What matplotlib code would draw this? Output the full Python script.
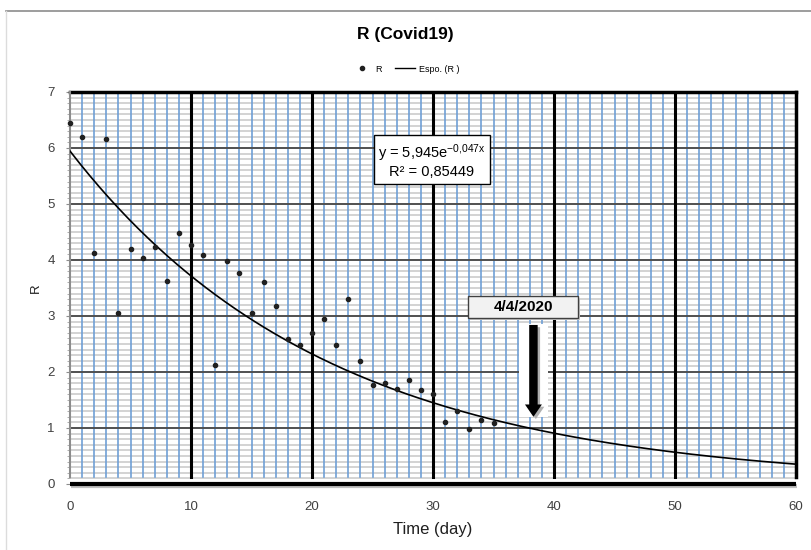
"""R (Covid19) decay chart with exponential trendline"""

import numpy as np
import matplotlib.pyplot as plt
from matplotlib.lines import Line2D
from matplotlib.patches import FancyArrow, Rectangle
import matplotlib.patheffects as pe

plt.rcParams["font.family"] = ["Liberation Sans", "DejaVu Sans"]
plt.rcParams["mathtext.fontset"] = "custom"
plt.rcParams["mathtext.rm"] = "Liberation Sans"
plt.rcParams["mathtext.it"] = "Liberation Sans:italic"

days = list(range(36))
r_values = [
    6.45, 6.19, 4.12, 6.16, 3.06, 4.19, 4.03, 4.24, 3.62, 4.49,
    4.26, 4.09, 2.13, 3.99, 3.76, 3.05, 3.60, 3.18, 2.59, 2.49,
    2.69, 2.94, 2.49, 3.30, 2.20, 1.77, 1.80, 1.70, 1.85, 1.68,
    1.61, 1.10, 1.31, 0.98, 1.15, 1.09,
]

# Excel exponential trendline shown on the chart
fit_a = 5.945
fit_b = -0.047
fit_r2_label = "R² = 0,85449"
fit_eq_label = r"y = 5,945e$^{\mathrm{-0{,}047x}}$"

marker_day = 38.3
marker_label = "4/4/2020"

x_ticks = [0, 10, 20, 30, 40, 50, 60]
y_ticks = [0, 1, 2, 3, 4, 5, 6, 7]

fig = plt.figure(figsize=(8.11, 5.5), dpi=100)
ax = fig.add_axes([70 / 811, 1 - 484 / 550, 726 / 811, 392 / 550])
ax.set_xlim(0, 60)
ax.set_ylim(0, 7)

# chart-area border (cropped)
fig.add_artist(Line2D([6 / 811, 1], [1 - 11 / 550] * 2, color="#8c8c8c", lw=1.2))
fig.add_artist(Line2D([6 / 811] * 2, [0, 1 - 11 / 550], color="#dcdcdc", lw=1))

# graph-paper grid
grid_bottom = 0.13
for yv in np.arange(0.1, 7.0, 0.1):
    if abs(yv - round(yv)) < 1e-6:
        continue
    ax.plot([0, 60], [yv, yv], color="#c8c8c8", lw=1.1, zorder=1)
for d in range(1, 60):
    if d % 10 == 0:
        continue
    ax.plot([d, d], [grid_bottom, 7], color="#6f9fd6", lw=1.2, zorder=1.5)
for yv in range(1, 7):
    ax.plot([0, 60], [yv, yv], color="#505050", lw=1.4, zorder=2)
for d in range(10, 60, 10):
    ax.plot([d, d], [grid_bottom, 7], color="black", lw=2.2, zorder=2.5)

# frame
ax.plot([0, 60], [7, 7], color="black", lw=2.5, zorder=3, clip_on=False)
ax.plot([60, 60], [grid_bottom, 7], color="black", lw=2.5, zorder=3, clip_on=False)
ax.plot([0, 0], [grid_bottom, 7], color="#8c8c8c", lw=1.5, zorder=3, clip_on=False)
ax.plot([0, 60], [0, 0], color="black", lw=3, zorder=3, clip_on=False, solid_capstyle="butt",
        path_effects=[pe.SimpleLineShadow(offset=(1, -1.5), shadow_color="gray", alpha=0.5), pe.Normal()])
for s in ax.spines.values():
    s.set_visible(False)

# trendline
xs = np.linspace(0, 60, 300)
ax.plot(xs, fit_a * np.exp(fit_b * xs), color="black", lw=1.2, zorder=4)

# data points
ax.plot(days, r_values, "o", color="#202020", ms=3.0, zorder=5, clip_on=False)

# ticks
ax.set_xticks(x_ticks)
ax.set_yticks(y_ticks)
ax.set_yticks(np.arange(0, 7.01, 0.1), minor=True)
ax.tick_params(axis="x", length=0, pad=12, labelsize=9.5, labelcolor="#404040")
ax.tick_params(axis="y", which="major", length=3, color="#8c8c8c", pad=8, labelsize=9.5, labelcolor="#404040")
ax.tick_params(axis="y", which="minor", length=2, color="#a0a0a0")
ax.set_xlabel("Time (day)", fontsize=12, labelpad=7, color="#202020")
ax.set_ylabel("R", fontsize=9.5, labelpad=4, color="#202020")

# equation box
ax.text(29.9, 5.77, fit_eq_label + "\n" + fit_r2_label, ha="center", va="center",
        fontsize=10.5, linespacing=1.1, zorder=6,
        bbox={"boxstyle": "square,pad=0.3", "facecolor": "white", "edgecolor": "black", "lw": 1})

# date marker with arrow
ax.add_patch(Rectangle((37.1, 1.2), 2.4, 1.65, facecolor="white", edgecolor="none", zorder=6))
ax.add_patch(FancyArrow(marker_day + 0.2, 2.80, 0, -1.64, width=0.7, head_width=1.4, head_length=0.22,
                        length_includes_head=True, color="#b0b0b0", lw=0, zorder=6.5))
ax.add_patch(FancyArrow(marker_day, 2.84, 0, -1.64, width=0.7, head_width=1.4, head_length=0.22,
                        length_includes_head=True, color="black", lw=0, zorder=7))
ax.add_patch(Rectangle((33.05, 2.92), 9.1, 0.39, facecolor="#c8c8c8", edgecolor="none", zorder=7.5))
ax.add_patch(Rectangle((32.9, 2.96), 9.1, 0.39, facecolor="#f2f2f2", edgecolor="#404040", lw=1, zorder=8))
ax.text(37.45, 3.155, marker_label, ha="center", va="center", fontsize=11, fontweight="bold", zorder=9)

# title and legend
fig.text(0.5, 1 - 35 / 550, "R (Covid19)", ha="center", va="center", fontsize=12.5, fontweight="bold")
handles = [
    Line2D([], [], marker="o", ls="none", color="#202020", ms=3),
    Line2D([], [], color="black", lw=1),
]
fig.legend(handles, ["R", "Espo. (R )"], loc="center", bbox_to_anchor=(0.5, 1 - 69 / 550), ncol=2,
           frameon=False, fontsize=6.5, handlelength=2.2, columnspacing=1.5, handletextpad=0.4)

fig.savefig("out.png", dpi=100)
